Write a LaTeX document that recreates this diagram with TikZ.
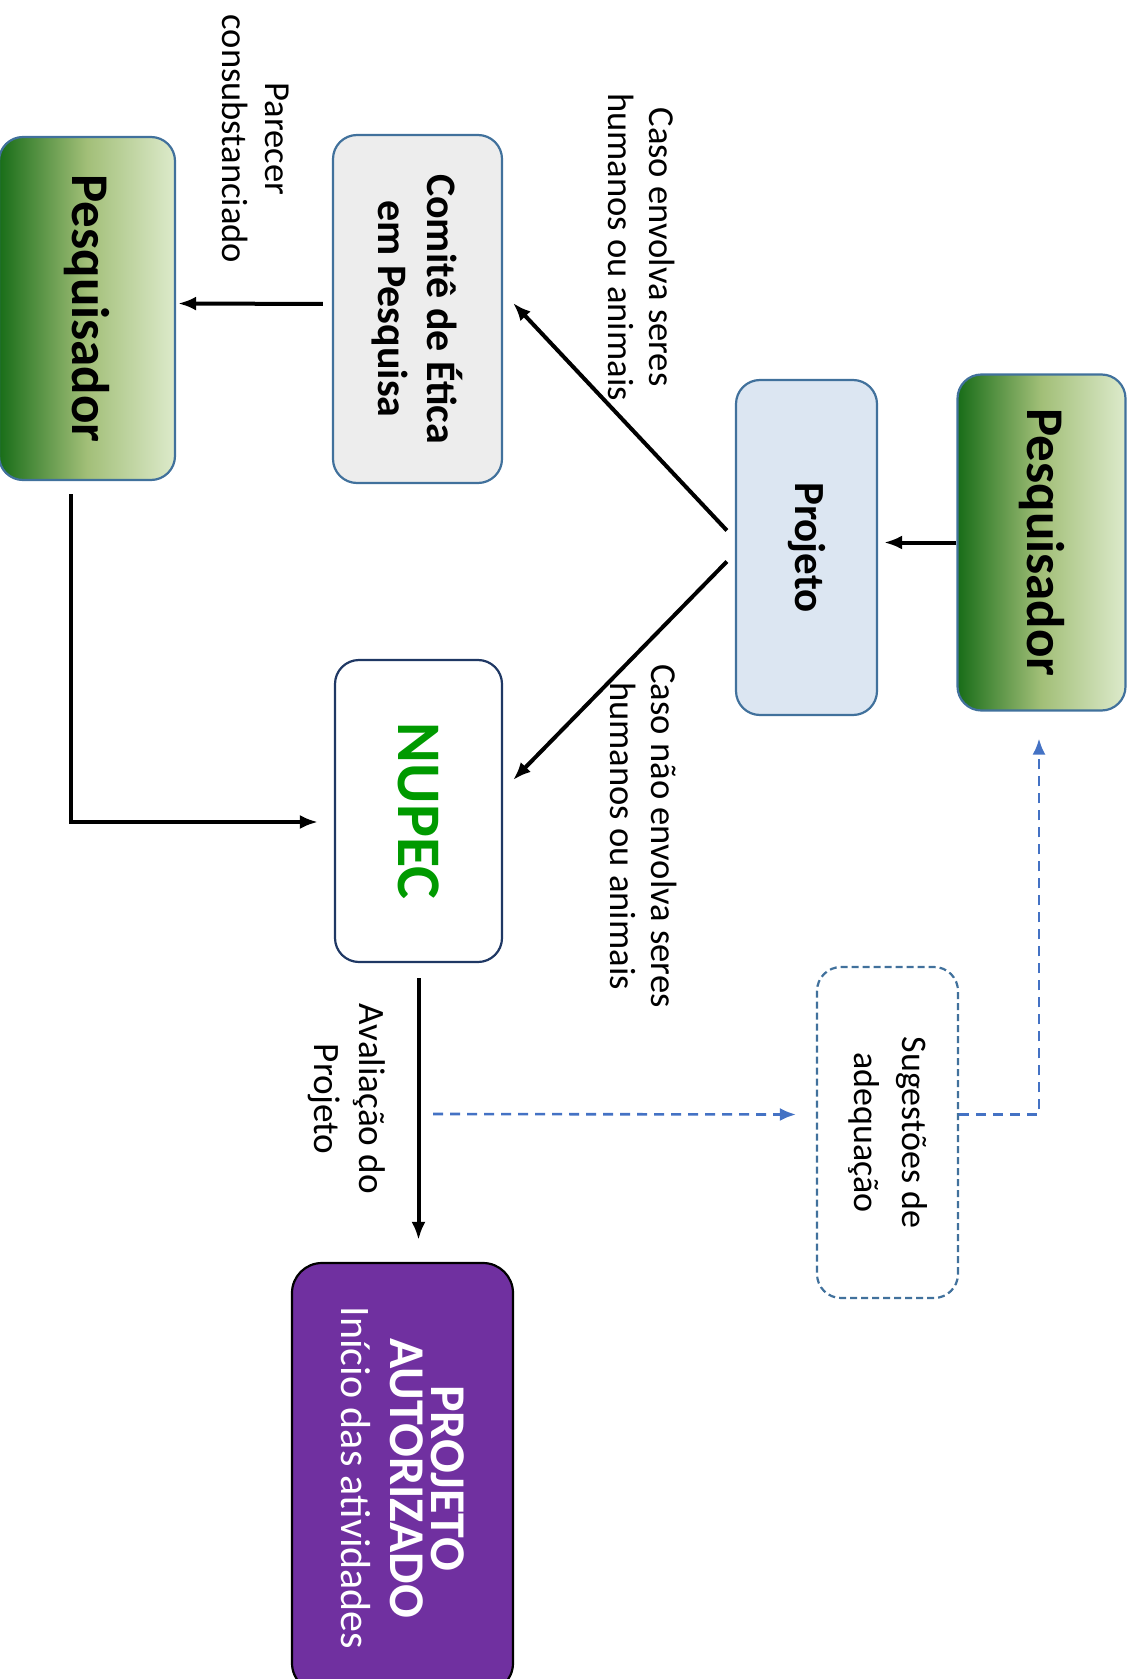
\documentclass[tikz,border=0pt]{standalone}
\usepackage{fontspec}
\setmainfont{Carlito}
\usetikzlibrary{arrows.meta}

\definecolor{bordaazul}{HTML}{41719C}
\definecolor{setaazul}{HTML}{4472C4}
\definecolor{verdeescuro}{HTML}{186D18}
\definecolor{verdemeio}{HTML}{A2BF78}
\definecolor{verdeclaro}{HTML}{DDEACB}
\definecolor{azulclaro}{HTML}{DCE6F2}
\definecolor{cinzaclaro}{HTML}{EDEDED}
\definecolor{azulescuro}{HTML}{1F3864}
\definecolor{verdenupec}{HTML}{009A00}
\definecolor{roxo}{HTML}{7030A0}

\begin{document}
\begin{tikzpicture}[x=0.5pt,y=-0.5pt,
    caixa/.style={draw=bordaazul, line width=1.1pt, rounded corners=12pt, rotate=-90, inner sep=2pt, align=center},
    pesq/.style={caixa, left color=verdeescuro, right color=verdeclaro, middle color=verdemeio,
        minimum width=168pt, minimum height=84pt, font=\bfseries\fontsize{26.5}{30}\selectfont},
    rotulo/.style={rotate=-90, align=center, font=\fontsize{18.3}{20.5}\selectfont},
    seta/.style={-{Latex[length=9pt,width=7pt]}, line width=2pt},
    tracejada/.style={-{Latex[length=8pt,width=6.5pt]}, line width=1.3pt, setaazul, dash pattern=on 5pt off 3.5pt}]
    \useasboundingbox (0,0) rectangle (1133,1679);

    \node[pesq] (pesqA) at (1041.5,542.5) {Pesquisador};
    \node[caixa, fill=azulclaro, minimum width=167.5pt, minimum height=70.5pt, font=\bfseries\fontsize{21.5}{26}\selectfont] (projeto) at (806.5,547.5) {Projeto};
    \node[caixa, fill=cinzaclaro, minimum width=174pt, minimum height=84.5pt, font=\bfseries\fontsize{21}{24.5}\selectfont] (comite) at (417.5,309) {Comitê de Ética\\em Pesquisa};
    \node[pesq, minimum width=171.5pt, minimum height=88pt] (pesqB) at (87,308.5) {Pesquisador};
    \node[caixa, draw=azulescuro, fill=white, minimum width=151pt, minimum height=83.5pt, text=verdenupec, font=\bfseries\fontsize{31}{36}\selectfont] (nupec) at (418.5,811) {NUPEC};
    \node[caixa, draw=black, fill=roxo, text=white, rounded corners=15pt, minimum width=215pt, minimum height=110.5pt, font=\bfseries\fontsize{25}{20.5}\selectfont] (autorizado) at (402.5,1478) {PROJETO\\AUTORIZADO\\[4pt]\mdseries\fontsize{21}{24.5}\selectfont Início das atividades};
    \node[caixa, dash pattern=on 3.5pt off 2pt, fill=white, minimum width=165.5pt, minimum height=70.5pt, font=\fontsize{18}{24}\selectfont] (sug) at (887.5,1132.5) {Sugestões de\\adequação};

    \node[rotulo] (envolve) at (642,247) {Caso envolva seres\\humanos ou animais};
    \node[rotulo] (naoenvolve) at (644,836) {Caso não envolva seres\\humanos ou animais};
    \node[rotulo, font=\fontsize{18.3}{21.5}\selectfont] (parecer) at (256,139) {Parecer\\consubstanciado};
    \node[rotulo, font=\fontsize{18.6}{22.5}\selectfont] (avaliacao) at (347,1099) {Avaliação do\\Projeto};

    \draw[seta, shorten >=3pt] (pesqA.south) -- (pesqA.south -| projeto.north);
    \draw[seta] ([xshift=-4pt,yshift=8.5pt]projeto.south) -- ([xshift=5pt,yshift=3pt]comite.north);
    \draw[seta] ([xshift=-4pt,yshift=-7pt]projeto.south) -- ([xshift=5pt,yshift=15.5pt]nupec.north);
    \draw[seta, shorten <=4.5pt, shorten >=1pt] ([yshift=2.5pt]comite.south) -- ([yshift=2.5pt]pesqB.north);
    \draw[seta] ([xshift=-8pt,yshift=-6.5pt]pesqB.east) |- ([xshift=-8pt,yshift=-5.5pt]nupec.south);
    \draw[seta, shorten <=7.5pt, shorten >=11pt] (nupec.east) -- (nupec.east |- autorizado.west);

    \coordinate (desvio) at (433,1114);
    \draw[tracejada] (desvio) -- ([xshift=-10pt,yshift=9pt]sug.south);
    \draw[tracejada] ([yshift=9pt]sug.north) -| ([xshift=-1.25pt,yshift=-13.5pt]pesqA.east);
\end{tikzpicture}
\end{document}
